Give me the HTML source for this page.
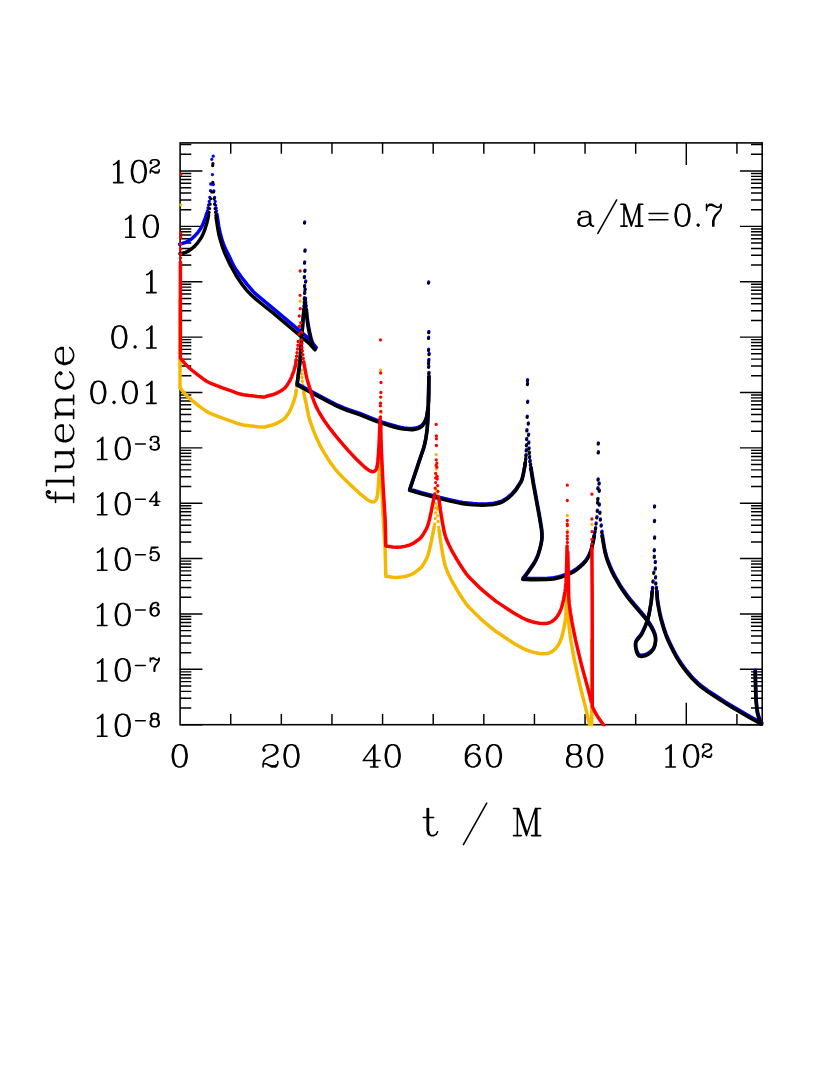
<!DOCTYPE html>
<html><head><meta charset="utf-8"><title>fluence</title>
<style>html,body{margin:0;padding:0;background:#fff}body{width:830px;height:1075px;overflow:hidden;font-family:"Liberation Serif",serif}</style>
</head><body>
<svg width="830" height="1075" viewBox="0 0 830 1075" style="display:block">
<rect width="830" height="1075" fill="#fff"/>
<path d="M180.1,724.70h22.3M762.2,724.70h-22.3M180.1,708.03h11.2M762.2,708.03h-11.2M180.1,698.28h11.2M762.2,698.28h-11.2M180.1,691.36h11.2M762.2,691.36h-11.2M180.1,686.00h11.2M762.2,686.00h-11.2M180.1,681.61h11.2M762.2,681.61h-11.2M180.1,677.91h11.2M762.2,677.91h-11.2M180.1,674.70h11.2M762.2,674.70h-11.2M180.1,671.86h11.2M762.2,671.86h-11.2M180.1,669.33h22.3M762.2,669.33h-22.3M180.1,652.66h11.2M762.2,652.66h-11.2M180.1,642.91h11.2M762.2,642.91h-11.2M180.1,635.99h11.2M762.2,635.99h-11.2M180.1,630.63h11.2M762.2,630.63h-11.2M180.1,626.24h11.2M762.2,626.24h-11.2M180.1,622.54h11.2M762.2,622.54h-11.2M180.1,619.33h11.2M762.2,619.33h-11.2M180.1,616.49h11.2M762.2,616.49h-11.2M180.1,613.96h22.3M762.2,613.96h-22.3M180.1,597.29h11.2M762.2,597.29h-11.2M180.1,587.54h11.2M762.2,587.54h-11.2M180.1,580.62h11.2M762.2,580.62h-11.2M180.1,575.26h11.2M762.2,575.26h-11.2M180.1,570.87h11.2M762.2,570.87h-11.2M180.1,567.17h11.2M762.2,567.17h-11.2M180.1,563.96h11.2M762.2,563.96h-11.2M180.1,561.12h11.2M762.2,561.12h-11.2M180.1,558.59h22.3M762.2,558.59h-22.3M180.1,541.92h11.2M762.2,541.92h-11.2M180.1,532.17h11.2M762.2,532.17h-11.2M180.1,525.25h11.2M762.2,525.25h-11.2M180.1,519.89h11.2M762.2,519.89h-11.2M180.1,515.50h11.2M762.2,515.50h-11.2M180.1,511.80h11.2M762.2,511.80h-11.2M180.1,508.59h11.2M762.2,508.59h-11.2M180.1,505.75h11.2M762.2,505.75h-11.2M180.1,503.22h22.3M762.2,503.22h-22.3M180.1,486.55h11.2M762.2,486.55h-11.2M180.1,476.80h11.2M762.2,476.80h-11.2M180.1,469.88h11.2M762.2,469.88h-11.2M180.1,464.52h11.2M762.2,464.52h-11.2M180.1,460.13h11.2M762.2,460.13h-11.2M180.1,456.43h11.2M762.2,456.43h-11.2M180.1,453.22h11.2M762.2,453.22h-11.2M180.1,450.38h11.2M762.2,450.38h-11.2M180.1,447.85h22.3M762.2,447.85h-22.3M180.1,431.18h11.2M762.2,431.18h-11.2M180.1,421.43h11.2M762.2,421.43h-11.2M180.1,414.51h11.2M762.2,414.51h-11.2M180.1,409.15h11.2M762.2,409.15h-11.2M180.1,404.76h11.2M762.2,404.76h-11.2M180.1,401.06h11.2M762.2,401.06h-11.2M180.1,397.85h11.2M762.2,397.85h-11.2M180.1,395.01h11.2M762.2,395.01h-11.2M180.1,392.48h22.3M762.2,392.48h-22.3M180.1,375.81h11.2M762.2,375.81h-11.2M180.1,366.06h11.2M762.2,366.06h-11.2M180.1,359.14h11.2M762.2,359.14h-11.2M180.1,353.78h11.2M762.2,353.78h-11.2M180.1,349.39h11.2M762.2,349.39h-11.2M180.1,345.69h11.2M762.2,345.69h-11.2M180.1,342.48h11.2M762.2,342.48h-11.2M180.1,339.64h11.2M762.2,339.64h-11.2M180.1,337.11h22.3M762.2,337.11h-22.3M180.1,320.44h11.2M762.2,320.44h-11.2M180.1,310.69h11.2M762.2,310.69h-11.2M180.1,303.77h11.2M762.2,303.77h-11.2M180.1,298.41h11.2M762.2,298.41h-11.2M180.1,294.02h11.2M762.2,294.02h-11.2M180.1,290.32h11.2M762.2,290.32h-11.2M180.1,287.11h11.2M762.2,287.11h-11.2M180.1,284.27h11.2M762.2,284.27h-11.2M180.1,281.74h22.3M762.2,281.74h-22.3M180.1,265.07h11.2M762.2,265.07h-11.2M180.1,255.32h11.2M762.2,255.32h-11.2M180.1,248.40h11.2M762.2,248.40h-11.2M180.1,243.04h11.2M762.2,243.04h-11.2M180.1,238.65h11.2M762.2,238.65h-11.2M180.1,234.95h11.2M762.2,234.95h-11.2M180.1,231.74h11.2M762.2,231.74h-11.2M180.1,228.90h11.2M762.2,228.90h-11.2M180.1,226.37h22.3M762.2,226.37h-22.3M180.1,209.70h11.2M762.2,209.70h-11.2M180.1,199.95h11.2M762.2,199.95h-11.2M180.1,193.03h11.2M762.2,193.03h-11.2M180.1,187.67h11.2M762.2,187.67h-11.2M180.1,183.28h11.2M762.2,183.28h-11.2M180.1,179.58h11.2M762.2,179.58h-11.2M180.1,176.37h11.2M762.2,176.37h-11.2M180.1,173.53h11.2M762.2,173.53h-11.2M180.1,171.00h22.3M762.2,171.00h-22.3M180.1,154.33h11.2M762.2,154.33h-11.2M180.1,144.58h11.2M762.2,144.58h-11.2M230.72,724.7v-10.8M230.72,142.9v10.8M281.34,724.7v-10.8M281.34,142.9v10.8M331.96,724.7v-10.8M331.96,142.9v10.8M382.58,724.7v-10.8M382.58,142.9v10.8M433.20,724.7v-10.8M433.20,142.9v10.8M483.82,724.7v-10.8M483.82,142.9v10.8M534.44,724.7v-10.8M534.44,142.9v10.8M585.06,724.7v-10.8M585.06,142.9v10.8M635.68,724.7v-10.8M635.68,142.9v10.8M686.30,724.7v-22.0M686.30,142.9v22.0M736.92,724.7v-10.8M736.92,142.9v10.8" stroke="#000" stroke-width="1.45" fill="none"/>
<rect x="180.1" y="142.9" width="582.1" height="581.8" fill="none" stroke="#000" stroke-width="1.55"/>
<clipPath id="cp"><rect x="177.9" y="142.9" width="586.5" height="583.4"/></clipPath>
<g clip-path="url(#cp)">
<g fill="none" stroke="#f5b800" stroke-width="3.5" stroke-linecap="round" stroke-linejoin="round"><path d="M180.0,300.0L180.0,388.4M180.4,388.4L184.1,392.8L186.5,395.5L188.8,397.7L192.3,400.7L197.8,405.1L202.9,408.9L206.6,411.4L210.0,413.2L212.7,414.3L222.5,418.1L232.6,421.6L237.0,423.3L239.3,424.0L243.1,424.9L249.3,425.8L257.2,426.7L262.6,427.1L264.1,427.1L265.5,426.9L267.5,426.2L272.4,425.0L274.9,424.1L277.7,422.8L281.0,421.0L283.4,419.4L285.0,418.0L287.2,415.2L288.9,412.6L290.3,410.1L291.7,406.9L294.0,400.7L295.0,397.3L295.7,394.3L296.2,390.2M303.7,392.3L304.0,394.1L306.7,406.2L308.6,416.1L309.8,420.4L313.1,429.6L317.0,439.1L319.9,445.3L323.2,451.2L327.5,458.2L331.0,463.4L335.0,468.8L338.4,472.9L344.1,478.8L348.5,483.1L359.5,493.3L363.6,496.7L366.2,498.9L368.3,500.3L370.3,501.3L371.6,501.8L373.0,501.9L374.1,501.7L374.6,501.4L375.4,500.7L376.2,499.5L376.8,498.0L377.3,495.8L377.8,492.3L378.5,483.2L379.1,473.9L380.2,448.2M380.8,455.2L381.1,471.7L381.5,482.9L383.2,518.0L385.1,549.1L385.4,559.4L385.8,576.2M385.8,576.2L392.8,577.2L396.8,577.4L400.9,577.1L403.5,576.7L405.5,576.3L408.0,575.6L409.9,575.0L411.4,574.4L413.3,573.4L415.2,572.2L417.3,570.7L419.5,569.0L420.8,567.8L422.4,565.8L425.5,560.7L426.9,558.0L428.1,554.8L429.4,550.0L431.2,541.9L434.2,526.7M439.0,529.7L440.4,540.2L442.5,553.1L444.3,562.5L445.1,565.6L446.0,568.2L447.4,571.7L449.0,575.2L451.1,579.5L453.5,583.9L456.5,589.1L460.0,594.7L463.1,599.5L465.7,603.3L467.6,605.7L469.2,607.5L479.9,618.1L482.7,620.6L486.8,624.1L496.4,631.8L500.3,634.3L509.5,640.5L514.1,643.4L518.6,646.0L522.1,647.9L525.3,649.5L528.4,650.7L531.5,651.7L534.1,652.4L536.7,653.0L539.3,653.5L541.7,653.7L544.0,653.8L546.2,653.6L547.7,653.4L549.1,653.0L550.9,652.2L552.6,651.2L554.0,650.1L555.7,648.5L556.9,647.0L558.1,645.3L559.2,643.4L560.2,641.3L561.0,639.2L561.8,636.9L562.6,633.8L563.5,630.1L564.3,625.9L565.0,622.0L565.5,618.4L566.0,613.1L566.4,604.4L567.1,576.2M567.9,590.0L568.6,618.3L568.8,623.1L569.1,626.9L569.7,632.0L571.3,643.0L572.6,650.5L574.0,658.1L577.8,676.0L580.5,687.6L586.2,710.1L589.6,725.0M591.7,640.0L591.7,726.0"/><path d="M296.2,390.2L296.6,386.2L297.7,378.3L298.4,369.9M303.7,392.3L302.6,383.2L302.0,379.0L301.8,375.9L301.7,368.2" stroke-dasharray="0 3.7"/><path d="M180.8,204.8h0M180.8,263.3h0M180.8,267.6h0M180.6,274.2h0M180.6,279.2h0M180.6,284.2h0M180.6,288.2h0M300.2,301.2h0M300.1,325.5h0M300.3,338.9h0M299.3,346.2h0M300.8,352.9h0M299.1,356.6h0M301.6,362.4h0M298.9,364.5h0M380.5,370.1h0M380.7,403.2h0M381.0,412.7h0M380.9,422.7h0M380.7,427.3h0M380.5,433.4h0M380.4,436.0h0M380.8,441.6h0M380.5,447.2h0M434.7,524.0h0M435.2,518.4h0M435.7,512.8h0M435.7,508.2h0M435.7,503.6h0M436.2,495.4h0M436.2,490.0h0M436.4,475.7h0M436.4,469.0h0M436.4,466.2h0M436.2,454.6h0M438.6,527.1h0M438.0,521.5h0M437.7,515.8h0M437.2,509.2h0M437.2,506.6h0M436.9,497.4h0M436.9,493.3h0M567.3,515.4h0M567.3,530.7h0M567.3,550.7h0M567.3,554.3h0M567.4,555.8h0M567.3,562.5h0M567.3,566.1h0M567.3,569.2h0M567.4,572.7h0M591.9,524.4h0M591.9,549.2h0M592.0,561.8h0M592.0,569.6h0M592.0,574.2h0" stroke-width="3.3"/></g>
<g fill="none" stroke="#0000ff" stroke-width="3.5" stroke-linecap="round" stroke-linejoin="round"><path d="M179.5,244.3L185.2,242.5L186.7,241.9L188.6,240.9L190.3,239.7L192.5,238.1L194.4,236.3L196.2,234.3L198.0,232.3L199.5,230.2L201.0,227.9L202.0,226.1L203.3,223.2L205.1,218.6L205.8,216.7L206.5,214.0M216.9,214.0L218.8,226.5L220.0,232.4L221.7,238.8L223.8,245.0L225.7,249.3L229.2,256.3L232.1,262.6L233.5,265.3L234.8,267.6L236.4,270.1L241.0,276.5L243.8,280.2L246.9,284.1L253.1,291.4L254.5,292.9L259.5,297.2L274.3,309.3L289.8,322.3L304.8,335.0L308.0,338.0L310.2,340.3L312.5,343.0L316.2,347.7"/><path d="M213.2,156.2h0M211.8,159.3h0M212.4,174.6h0M210.7,184.0h0M213.3,184.5h0M210.5,190.7h0M213.9,191.0h0M209.8,197.4h0M214.6,197.4h0M209.2,201.5h0M215.2,201.5h0M208.6,205.0h0M215.7,205.3h0M208.0,208.0h0M216.2,208.2h0M207.4,210.8h0M216.5,210.8h0M206.9,213.0h0" stroke-width="3.3"/></g>
<g transform="translate(0.2,-1.2)" fill="none" stroke="#0000ff" stroke-width="3.5" stroke-linecap="round" stroke-linejoin="round"><path d="M315.0,349.8L313.3,346.3L312.1,343.4L310.8,339.2L309.6,334.0L308.5,328.9L307.6,323.3L306.8,317.2L306.2,310.5M303.8,310.1L302.7,323.6L300.1,359.4L299.1,368.5L297.0,384.9M297.0,384.9L310.4,392.2L330.2,402.8L337.4,406.4L343.2,408.9L347.6,410.5L359.6,414.6L373.1,420.1L377.2,421.7L382.2,423.4L388.0,425.2L396.8,427.7L401.6,428.8L403.8,429.1L409.2,429.6L411.2,429.7L412.7,429.7L415.2,429.3L417.8,428.6L419.7,427.8L421.4,426.8L422.5,425.7L423.8,423.9L425.5,420.6L426.2,418.7L426.8,416.3L427.5,411.4L428.1,406.6L428.5,401.6L428.7,393.5L428.8,377.4M428.8,380.0L428.3,400.6L428.1,412.1L427.7,421.1L427.1,429.4L426.4,434.8L425.7,439.3L424.6,444.7L423.3,449.5L419.5,460.6L409.6,490.3M409.6,490.3L421.4,493.8L436.7,497.9L449.2,500.9L458.4,502.9L462.7,503.7L466.9,504.2L472.9,504.8L478.2,505.1L482.7,505.2L486.3,505.1L490.1,504.8L493.7,504.4L496.9,503.7L499.6,503.0L502.2,502.0L504.3,500.8L507.5,498.6L509.9,496.6L512.2,494.4L514.9,491.4L516.5,489.2L520.7,482.6L521.4,481.3L521.8,480.2L522.6,477.3L523.4,473.6L524.7,466.7L525.2,463.2M530.9,469.0L533.2,483.5L539.2,516.1L541.1,527.5L541.6,530.9L541.8,533.8L541.9,536.4L541.8,539.1L541.5,541.6L541.1,544.0L539.7,549.9L538.0,555.3L537.1,557.7L536.0,560.0L534.3,563.2L532.0,566.8L527.5,573.2L522.9,579.3M522.9,579.3L530.6,579.7L535.5,579.8L546.6,579.6L550.3,579.3L553.4,578.9L555.9,578.5L558.5,577.9L561.1,577.2L564.1,576.2L566.5,575.2L569.3,574.0L571.9,572.7L573.7,571.7L575.6,570.5L577.8,568.9L579.8,567.2L582.0,565.2L584.0,563.2L585.5,561.5L586.5,560.2L587.6,558.4L588.6,556.6L590.0,553.5L591.1,550.5L592.9,543.0L594.2,536.2M602.2,536.2L603.1,542.0L604.5,550.0L605.4,554.0L606.4,557.7L608.0,562.4L609.8,566.9L611.9,571.7L614.1,576.1L617.0,581.2L620.2,586.6L623.6,591.8L626.8,596.3L630.1,600.5L637.0,608.5L643.4,616.1L645.9,619.2L647.8,621.9L650.3,625.7L652.1,628.9L653.6,632.0L654.7,634.9L655.2,636.9L655.5,638.8L655.5,641.2L655.3,643.2L654.9,645.3L654.2,647.3L653.4,649.2L652.2,650.8L650.8,652.3L648.7,654.0L647.0,655.0L645.0,655.8L642.8,656.3L641.7,656.4L640.7,656.4L639.4,656.1L639.0,655.9L638.3,655.3L637.7,654.5L637.0,653.0L636.5,651.4L635.8,648.9L635.6,647.3L635.4,645.7L635.5,644.0L635.6,642.9L636.0,642.0L636.6,640.8L637.4,639.7L640.1,636.5L641.2,635.1L641.8,634.0L643.4,630.7L644.9,627.4L646.3,623.9L647.5,620.4L648.2,618.0L649.0,614.7L651.1,602.5L651.5,598.6L652.1,592.3M656.7,592.3L657.2,599.2L657.6,602.6L658.5,607.7L659.7,614.0L660.9,619.2L662.2,623.8L664.0,629.9L665.8,635.0L667.7,639.7L669.9,644.4L672.9,650.6L675.8,656.0L678.2,660.1L680.7,664.0L683.9,668.5L686.9,672.4L689.4,675.4L691.7,678.1L694.2,680.6L696.4,682.8L698.8,684.9L701.3,687.1L704.1,689.2L707.4,691.6L715.7,697.0L725.1,703.1L731.0,706.7L748.9,717.2L761.6,724.3M755.1,671.3L755.7,694.3L756.1,702.0L756.7,708.2L757.3,712.7L758.1,716.0L759.2,719.4L761.1,724.3"/><path d="M306.2,310.5L305.6,303.8L305.2,296.0M303.8,310.1L304.3,302.7L304.3,296.0M428.8,377.4L428.8,370.0M525.2,463.2L525.8,458.3L526.0,454.0M530.9,469.0L529.7,460.0M594.2,536.2L595.6,528.0M602.2,536.2L601.4,529.0M652.1,592.3L652.6,586.0M656.7,592.3L656.1,587.0" stroke-dasharray="0 3.7"/><path d="M304.5,223.1h0M304.9,251.2h0M304.5,263.2h0M304.8,271.3h0M304.3,277.5h0M305.6,282.1h0M304.5,286.6h0M305.0,290.0h0M304.6,293.4h0M428.5,283.1h0M428.7,332.7h0M428.5,338.4h0M428.5,350.4h0M429.0,354.5h0M428.7,360.6h0M428.5,363.7h0M428.6,367.3h0M527.4,380.9h0M527.4,384.5h0M527.6,402.3h0M527.1,417.3h0M528.2,424.1h0M526.8,430.9h0M528.5,435.3h0M526.6,439.6h0M528.7,443.2h0M526.4,445.8h0M528.9,449.0h0M526.2,450.9h0M529.2,453.4h0M529.5,457.6h0M598.2,444.0h0M598.2,452.9h0M598.0,480.0h0M599.0,484.1h0M597.8,488.8h0M599.2,491.3h0M597.8,499.5h0M597.5,503.1h0M599.2,505.1h0M597.2,511.3h0M599.8,513.3h0M596.8,517.9h0M600.3,520.0h0M596.0,524.1h0M601.1,526.1h0M654.4,507.1h0M654.4,521.6h0M654.5,538.2h0M654.2,550.8h0M654.2,557.3h0M655.2,562.6h0M655.2,569.2h0M653.7,573.3h0M655.5,577.9h0M652.9,582.0h0M655.7,584.1h0" stroke-width="3.3"/></g>
<g fill="none" stroke="#000" stroke-width="3.5" stroke-linecap="round" stroke-linejoin="round"><path d="M180.0,253.8L183.4,253.0L185.7,252.3L187.6,251.4L189.4,250.4L191.7,248.8L193.9,246.9L195.8,245.0L197.6,242.8L199.5,240.2L201.2,237.6L202.7,234.8L203.7,232.4L205.2,228.3L207.0,222.4L207.6,219.9L208.3,216.5M216.1,217.5L218.0,229.7L219.1,235.3L220.3,239.7L221.6,244.1L222.8,247.9L224.2,251.7L226.4,256.8L228.5,261.3L230.5,265.4L233.2,270.2L235.4,274.2L237.6,277.7L240.7,282.4L243.5,286.2L246.2,289.6L248.4,292.1L251.0,294.7L255.8,299.1L262.4,304.5L272.7,312.7L304.8,339.6L307.7,342.1L310.0,344.3L312.0,346.5L315.0,349.8M315.0,349.8L313.3,346.3L312.1,343.4L310.8,339.2L309.6,334.0L308.5,328.9L307.6,323.3L306.8,317.2L306.2,310.5M303.8,310.1L302.7,323.6L300.1,359.4L299.1,368.5L297.0,384.9M297.0,384.9L310.4,392.2L330.2,402.8L337.4,406.4L343.2,408.9L347.6,410.5L359.6,414.6L373.1,420.1L377.2,421.7L382.2,423.4L388.0,425.2L396.8,427.7L401.6,428.8L403.8,429.1L409.2,429.6L411.2,429.7L412.7,429.7L415.2,429.3L417.8,428.6L419.7,427.8L421.4,426.8L422.5,425.7L423.8,423.9L425.5,420.6L426.2,418.7L426.8,416.3L427.5,411.4L428.1,406.6L428.5,401.6L428.7,393.5L428.8,377.4M428.8,380.0L428.3,400.6L428.1,412.1L427.7,421.1L427.1,429.4L426.4,434.8L425.7,439.3L424.6,444.7L423.3,449.5L419.5,460.6L409.6,490.3M409.6,490.3L421.4,493.8L436.7,497.9L449.2,500.9L458.4,502.9L462.7,503.7L466.9,504.2L472.9,504.8L478.2,505.1L482.7,505.2L486.3,505.1L490.1,504.8L493.7,504.4L496.9,503.7L499.6,503.0L502.2,502.0L504.3,500.8L507.5,498.6L509.9,496.6L512.2,494.4L514.9,491.4L516.5,489.2L520.7,482.6L521.4,481.3L521.8,480.2L522.6,477.3L523.4,473.6L524.7,466.7L525.2,463.2M530.9,469.0L533.2,483.5L539.2,516.1L541.1,527.5L541.6,530.9L541.8,533.8L541.9,536.4L541.8,539.1L541.5,541.6L541.1,544.0L539.7,549.9L538.0,555.3L537.1,557.7L536.0,560.0L534.3,563.2L532.0,566.8L527.5,573.2L522.9,579.3M522.9,579.3L530.6,579.7L535.5,579.8L546.6,579.6L550.3,579.3L553.4,578.9L555.9,578.5L558.5,577.9L561.1,577.2L564.1,576.2L566.5,575.2L569.3,574.0L571.9,572.7L573.7,571.7L575.6,570.5L577.8,568.9L579.8,567.2L582.0,565.2L584.0,563.2L585.5,561.5L586.5,560.2L587.6,558.4L588.6,556.6L590.0,553.5L591.1,550.5L592.9,543.0L594.2,536.2M602.2,536.2L603.1,542.0L604.5,550.0L605.4,554.0L606.4,557.7L608.0,562.4L609.8,566.9L611.9,571.7L614.1,576.1L617.0,581.2L620.2,586.6L623.6,591.8L626.8,596.3L630.1,600.5L637.0,608.5L643.4,616.1L645.9,619.2L647.8,621.9L650.3,625.7L652.1,628.9L653.6,632.0L654.7,634.9L655.2,636.9L655.5,638.8L655.5,641.2L655.3,643.2L654.9,645.3L654.2,647.3L653.4,649.2L652.2,650.8L650.8,652.3L648.7,654.0L647.0,655.0L645.0,655.8L642.8,656.3L641.7,656.4L640.7,656.4L639.4,656.1L639.0,655.9L638.3,655.3L637.7,654.5L637.0,653.0L636.5,651.4L635.8,648.9L635.6,647.3L635.4,645.7L635.5,644.0L635.6,642.9L636.0,642.0L636.6,640.8L637.4,639.7L640.1,636.5L641.2,635.1L641.8,634.0L643.4,630.7L644.9,627.4L646.3,623.9L647.5,620.4L648.2,618.0L649.0,614.7L651.1,602.5L651.5,598.6L652.1,592.3M656.7,592.3L657.2,599.2L657.6,602.6L658.5,607.7L659.7,614.0L660.9,619.2L662.2,623.8L664.0,629.9L665.8,635.0L667.7,639.7L669.9,644.4L672.9,650.6L675.8,656.0L678.2,660.1L680.7,664.0L683.9,668.5L686.9,672.4L689.4,675.4L691.7,678.1L694.2,680.6L696.4,682.8L698.8,684.9L701.3,687.1L704.1,689.2L707.4,691.6L715.7,697.0L725.1,703.1L731.0,706.7L748.9,717.2L761.6,724.3M755.1,671.3L755.7,694.3L756.1,702.0L756.7,708.2L757.3,712.7L758.1,716.0L759.2,719.4L761.1,724.3"/><path d="M306.2,310.5L305.6,303.8L305.2,296.0M303.8,310.1L304.3,302.7L304.3,296.0M428.8,377.4L428.8,370.0M525.2,463.2L525.8,458.3L526.0,454.0M530.9,469.0L529.7,460.0M594.2,536.2L595.6,528.0M602.2,536.2L601.4,529.0M652.1,592.3L652.6,586.0M656.7,592.3L656.1,587.0" stroke-dasharray="0 3.7"/><path d="M212.7,165.5h0M212.9,163.7h0M212.8,182.3h0M211.8,191.9h0M213.5,191.9h0M210.7,198.8h0M214.1,198.8h0M210.1,204.2h0M214.6,204.2h0M209.6,208.6h0M215.1,208.6h0M209.1,212.3h0M215.5,212.3h0M208.7,215.0h0M215.9,215.3h0M304.5,223.1h0M304.9,251.2h0M304.5,263.2h0M304.8,271.3h0M304.3,277.5h0M305.6,282.1h0M304.5,286.6h0M305.0,290.0h0M304.6,293.4h0M428.5,283.1h0M428.7,332.7h0M428.5,338.4h0M428.5,350.4h0M429.0,354.5h0M428.7,360.6h0M428.5,363.7h0M428.6,367.3h0M527.4,380.9h0M527.4,384.5h0M527.6,402.3h0M527.1,417.3h0M528.2,424.1h0M526.8,430.9h0M528.5,435.3h0M526.6,439.6h0M528.7,443.2h0M526.4,445.8h0M528.9,449.0h0M526.2,450.9h0M529.2,453.4h0M529.5,457.6h0M598.2,444.0h0M598.2,452.9h0M598.0,480.0h0M599.0,484.1h0M597.8,488.8h0M599.2,491.3h0M597.8,499.5h0M597.5,503.1h0M599.2,505.1h0M597.2,511.3h0M599.8,513.3h0M596.8,517.9h0M600.3,520.0h0M596.0,524.1h0M601.1,526.1h0M654.4,507.1h0M654.4,521.6h0M654.5,538.2h0M654.2,550.8h0M654.2,557.3h0M655.2,562.6h0M655.2,569.2h0M653.7,573.3h0M655.5,577.9h0M652.9,582.0h0M655.7,584.1h0" stroke-width="3.3"/></g>
<g fill="none" stroke="#ff0000" stroke-width="3.5" stroke-linecap="round" stroke-linejoin="round"><path d="M180.4,262.0L180.4,358.2M180.4,358.2L184.1,362.6L186.5,365.3L188.8,367.5L192.3,370.5L197.8,374.9L202.9,378.7L206.6,381.2L210.0,383.0L212.7,384.1L222.5,387.9L232.6,391.4L237.0,393.1L239.3,393.8L243.1,394.7L249.3,395.6L257.2,396.5L262.6,396.9L264.1,396.9L265.5,396.7L267.5,396.0L272.4,394.8L274.9,393.9L277.7,392.6L281.0,390.8L283.4,389.2L285.0,387.8L287.2,385.0L288.9,382.4L290.3,379.9L291.7,376.7L294.0,370.5L295.0,367.1L295.7,364.1L296.2,360.0M303.7,362.1L306.1,374.8L307.1,379.1L308.2,383.1L311.0,392.1L312.5,397.5L313.9,401.2L315.9,406.1L317.9,410.0L319.8,413.5L324.3,420.7L328.8,427.1L335.9,436.2L341.8,443.2L348.1,450.4L355.9,458.7L362.7,465.3L365.1,467.5L367.0,468.9L368.9,470.2L370.7,471.2L371.6,471.5L372.4,471.7L373.5,471.6L374.6,471.2L375.4,470.5L376.0,469.7L376.4,469.0L376.9,467.3L377.4,464.9L377.8,461.7L378.6,451.8L379.1,442.7L380.2,418.0M380.8,425.0L381.1,441.5L381.5,452.7L383.2,487.8L385.1,518.9L385.4,529.2L385.8,546.0M385.8,546.0L392.8,547.0L396.8,547.2L400.9,546.9L403.5,546.5L405.5,546.1L408.0,545.5L409.9,544.8L411.4,544.2L413.3,543.2L415.2,542.0L417.3,540.5L419.5,538.8L420.8,537.6L422.4,535.6L425.5,530.5L426.9,527.8L428.1,524.6L429.4,519.8L431.2,511.7L434.2,496.5M439.0,499.5L440.4,510.0L442.5,522.9L444.3,532.3L445.1,535.4L446.0,538.0L447.4,541.5L449.0,545.0L451.1,549.3L453.5,553.7L456.5,558.9L460.0,564.5L463.1,569.3L465.7,573.1L467.6,575.5L469.2,577.3L479.9,587.9L482.7,590.4L486.8,593.9L496.4,601.6L500.3,604.1L509.5,610.3L514.1,613.2L518.6,615.8L522.1,617.7L525.3,619.3L528.4,620.5L531.5,621.5L534.1,622.2L536.7,622.8L539.3,623.3L541.7,623.5L544.0,623.6L546.2,623.4L547.7,623.2L549.1,622.8L550.9,622.0L552.6,621.0L554.0,619.9L555.7,618.3L556.9,616.8L558.1,615.1L559.2,613.2L560.2,611.1L561.0,609.0L561.8,606.7L562.6,603.6L563.5,599.9L564.3,595.7L565.0,591.8L565.5,588.2L566.0,582.9L566.4,574.2L567.1,546.0M567.8,552.0L568.4,578.5L568.6,591.0L568.7,596.6L569.2,603.9L570.5,613.1L571.9,621.6L574.0,632.3L575.6,640.1L577.6,648.6L581.7,665.8L588.4,690.1L589.8,695.6L591.3,702.2M591.9,548.0L592.2,600.0L592.3,706.5M592.3,706.5L595.2,712.4L597.2,715.9L599.7,719.6L604.0,725.5"/><path d="M296.2,360.0L296.6,356.0L297.7,348.1L298.4,339.7M303.7,362.1L302.6,353.0L302.0,348.8L301.8,345.7L301.7,338.0" stroke-dasharray="0 3.7"/><path d="M180.8,174.6h0M180.8,233.1h0M180.8,237.4h0M180.6,244.0h0M180.6,249.0h0M180.6,254.0h0M180.6,258.0h0M300.2,271.0h0M300.1,295.3h0M300.3,308.7h0M299.3,316.0h0M300.8,322.7h0M299.1,326.4h0M301.6,332.2h0M298.9,334.3h0M380.5,339.9h0M380.7,373.0h0M381.0,382.5h0M380.9,392.5h0M380.7,397.1h0M380.5,403.2h0M380.4,405.8h0M380.8,411.4h0M380.5,417.0h0M434.7,493.8h0M435.2,488.2h0M435.7,482.6h0M435.7,478.0h0M435.7,473.4h0M436.2,465.2h0M436.2,459.8h0M436.4,445.5h0M436.4,438.8h0M436.4,436.0h0M436.2,424.4h0M438.6,496.9h0M438.0,491.3h0M437.7,485.6h0M437.2,479.0h0M437.2,476.4h0M436.9,467.2h0M436.9,463.1h0M567.3,485.2h0M567.3,500.5h0M567.3,520.5h0M567.3,524.1h0M567.4,525.6h0M567.3,532.3h0M567.3,535.9h0M567.3,539.0h0M567.4,542.5h0M591.9,494.2h0M591.9,519.0h0M592.0,531.6h0M592.0,539.4h0M592.0,544.0h0" stroke-width="3.3"/></g>
</g>
<path d="M130.89,237.27L130.89,215.18L127.74,218.33L125.63,219.39M129.84,216.23L129.84,237.27M125.63,237.27L135.10,237.27M149.83,215.18L146.67,216.23L144.57,219.39L143.52,224.65L143.52,227.80L144.57,233.06L146.67,236.22L149.83,237.27L147.72,236.22L146.67,235.17L145.62,233.06L144.57,227.80L144.57,224.65L145.62,219.39L146.67,217.28L147.72,216.23L149.83,215.18L151.93,215.18L155.09,216.23L157.19,219.39L158.24,224.65L158.24,227.80L157.19,233.06L155.09,236.22L151.93,237.27L154.04,236.22L155.09,235.17L156.14,233.06L157.19,227.80L157.19,224.65L156.14,219.39L155.09,217.28L154.04,216.23L151.93,215.18M149.83,237.27L151.93,237.27M151.93,292.64L151.93,270.55L148.78,273.70L146.67,274.76M150.88,271.60L150.88,292.64M146.67,292.64L156.14,292.64M118.27,325.92L115.11,326.97L113.01,330.13L111.96,335.39L111.96,338.54L113.01,343.80L115.11,346.96L118.27,348.01L116.16,346.96L115.11,345.91L114.06,343.80L113.01,338.54L113.01,335.39L114.06,330.13L115.11,328.02L116.16,326.97L118.27,325.92L120.37,325.92L123.53,326.97L125.63,330.13L126.68,335.39L126.68,338.54L125.63,343.80L123.53,346.96L120.37,348.01L122.48,346.96L123.53,345.91L124.58,343.80L125.63,338.54L125.63,335.39L124.58,330.13L123.53,328.02L122.48,326.97L120.37,325.92M118.27,348.01L120.37,348.01M135.10,345.91L134.05,346.96L135.10,348.01L136.15,346.96L135.10,345.91M151.93,348.01L151.93,325.92L148.78,329.07L146.67,330.13M150.88,326.97L150.88,348.01M146.67,348.01L156.14,348.01M97.23,381.29L94.07,382.34L91.97,385.50L90.92,390.76L90.92,393.91L91.97,399.17L94.07,402.33L97.23,403.38L95.12,402.33L94.07,401.28L93.02,399.17L91.97,393.91L91.97,390.76L93.02,385.50L94.07,383.39L95.12,382.34L97.23,381.29L99.33,381.29L102.49,382.34L104.59,385.50L105.64,390.76L105.64,393.91L104.59,399.17L102.49,402.33L99.33,403.38L101.44,402.33L102.49,401.28L103.54,399.17L104.59,393.91L104.59,390.76L103.54,385.50L102.49,383.39L101.44,382.34L99.33,381.29M97.23,403.38L99.33,403.38M114.06,401.28L113.01,402.33L114.06,403.38L115.11,402.33L114.06,401.28M128.79,381.29L125.63,382.34L123.53,385.50L122.48,390.76L122.48,393.91L123.53,399.17L125.63,402.33L128.79,403.38L126.68,402.33L125.63,401.28L124.58,399.17L123.53,393.91L123.53,390.76L124.58,385.50L125.63,383.39L126.68,382.34L128.79,381.29L130.89,381.29L134.05,382.34L136.15,385.50L137.20,390.76L137.20,393.91L136.15,399.17L134.05,402.33L130.89,403.38L133.00,402.33L134.05,401.28L135.10,399.17L136.15,393.91L136.15,390.76L135.10,385.50L134.05,383.39L133.00,382.34L130.89,381.29M128.79,403.38L130.89,403.38M151.93,403.38L151.93,381.29L148.78,384.44L146.67,385.50M150.88,382.34L150.88,403.38M146.67,403.38L156.14,403.38M118.87,182.60L118.87,160.51L115.72,163.66L113.61,164.72M117.82,161.56L117.82,182.60M113.61,182.60L123.08,182.60M137.81,160.51L134.65,161.56L132.55,164.72L131.50,169.98L131.50,173.13L132.55,178.39L134.65,181.55L137.81,182.60L135.70,181.55L134.65,180.50L133.60,178.39L132.55,173.13L132.55,169.98L133.60,164.72L134.65,162.61L135.70,161.56L137.81,160.51L139.91,160.51L143.07,161.56L145.17,164.72L146.22,169.98L146.22,173.13L145.17,178.39L143.07,181.55L139.91,182.60L142.02,181.55L143.07,180.50L144.12,178.39L145.17,173.13L145.17,169.98L144.12,164.72L143.07,162.61L142.02,161.56L139.91,160.51M137.81,182.60L139.91,182.60M153.46,167.28L156.63,166.01L158.54,164.75L159.17,163.47L159.17,162.21L158.54,160.94L157.91,160.30L156.00,159.66L153.46,159.66L151.56,160.30L150.92,160.94L150.28,162.21L150.28,162.84L150.92,163.47L151.56,162.84L150.92,162.21M150.28,173.00L150.28,171.09L150.92,169.19L152.19,167.92L156.00,166.01L157.91,164.75L158.54,163.47L158.54,162.21L157.91,160.94L157.27,160.30L156.00,159.66M159.17,169.82L159.17,171.09L158.54,172.37L157.91,173.00L155.37,173.00L152.19,171.09L155.37,172.37L157.27,172.37L158.54,171.73L159.17,171.09M150.28,171.73L150.92,171.09L152.19,171.09M102.77,459.45L102.77,437.36L99.62,440.51L97.51,441.57M101.72,438.41L101.72,459.45M97.51,459.45L106.98,459.45M121.71,437.36L118.55,438.41L116.45,441.57L115.40,446.83L115.40,449.98L116.45,455.24L118.55,458.40L121.71,459.45L119.60,458.40L118.55,457.35L117.50,455.24L116.45,449.98L116.45,446.83L117.50,441.57L118.55,439.46L119.60,438.41L121.71,437.36L123.81,437.36L126.97,438.41L129.07,441.57L130.12,446.83L130.12,449.98L129.07,455.24L126.97,458.40L123.81,459.45L125.92,458.40L126.97,457.35L128.02,455.24L129.07,449.98L129.07,446.83L128.02,441.57L126.97,439.46L125.92,438.41L123.81,437.36M121.71,459.45L123.81,459.45M135.58,443.95h9.7M157.91,443.50L158.54,445.41L158.54,447.31L157.91,448.58L157.27,449.22L156.00,449.85L153.46,449.85L151.56,449.22L150.92,448.58L150.28,447.31L150.28,446.68L150.92,446.04L151.56,446.68L150.92,447.31M154.09,442.23L156.00,442.23L157.91,441.60L158.54,440.33L158.54,438.42L157.91,437.15L156.00,436.52L153.46,436.52L151.56,437.15L150.92,437.79L150.28,439.06L150.28,439.69L150.92,440.33L151.56,439.69L150.92,439.06M156.00,436.52L157.27,437.15L157.91,438.42L157.91,440.33L157.27,441.60L156.00,442.23L157.27,442.87L158.54,444.14L159.17,445.41L159.17,447.31L158.54,448.58L157.91,449.22L156.00,449.85M102.77,514.82L102.77,492.73L99.62,495.88L97.51,496.94M101.72,493.78L101.72,514.82M97.51,514.82L106.98,514.82M121.71,492.73L118.55,493.78L116.45,496.94L115.40,502.20L115.40,505.35L116.45,510.61L118.55,513.77L121.71,514.82L119.60,513.77L118.55,512.72L117.50,510.61L116.45,505.35L116.45,502.20L117.50,496.94L118.55,494.83L119.60,493.78L121.71,492.73L123.81,492.73L126.97,493.78L129.07,496.94L130.12,502.20L130.12,505.35L129.07,510.61L126.97,513.77L123.81,514.82L125.92,513.77L126.97,512.72L128.02,510.61L129.07,505.35L129.07,502.20L128.02,496.94L126.97,494.83L125.92,493.78L123.81,492.73M121.71,514.82L123.81,514.82M135.58,499.32h9.7M156.63,505.22L156.63,491.89L149.65,501.41L159.81,501.41M156.00,493.16L156.00,505.22M154.09,505.22L158.54,505.22M102.77,570.19L102.77,548.10L99.62,551.25L97.51,552.31M101.72,549.15L101.72,570.19M97.51,570.19L106.98,570.19M121.71,548.10L118.55,549.15L116.45,552.31L115.40,557.57L115.40,560.72L116.45,565.98L118.55,569.14L121.71,570.19L119.60,569.14L118.55,568.09L117.50,565.98L116.45,560.72L116.45,557.57L117.50,552.31L118.55,550.20L119.60,549.15L121.71,548.10L123.81,548.10L126.97,549.15L129.07,552.31L130.12,557.57L130.12,560.72L129.07,565.98L126.97,569.14L123.81,570.19L125.92,569.14L126.97,568.09L128.02,565.98L129.07,560.72L129.07,557.57L128.02,552.31L126.97,550.20L125.92,549.15L123.81,548.10M121.71,570.19L123.81,570.19M135.58,554.69h9.7M151.56,547.89L154.73,547.89L157.91,547.25L151.56,547.25L150.28,553.61L151.56,552.34L153.46,551.70L155.37,551.70L157.27,552.34L158.54,553.61L159.17,555.51L159.17,556.78L158.54,558.69L157.27,559.96L155.37,560.59L153.46,560.59L151.56,559.96L150.92,559.32L150.28,558.05L150.28,557.42L150.92,556.78L151.56,557.42L150.92,558.05M155.37,551.70L156.63,552.34L157.91,553.61L158.54,555.51L158.54,556.78L157.91,558.69L156.63,559.96L155.37,560.59M102.77,625.56L102.77,603.47L99.62,606.62L97.51,607.68M101.72,604.52L101.72,625.56M97.51,625.56L106.98,625.56M121.71,603.47L118.55,604.52L116.45,607.68L115.40,612.94L115.40,616.09L116.45,621.35L118.55,624.51L121.71,625.56L119.60,624.51L118.55,623.46L117.50,621.35L116.45,616.09L116.45,612.94L117.50,607.68L118.55,605.57L119.60,604.52L121.71,603.47L123.81,603.47L126.97,604.52L129.07,607.68L130.12,612.94L130.12,616.09L129.07,621.35L126.97,624.51L123.81,625.56L125.92,624.51L126.97,623.46L128.02,621.35L129.07,616.09L129.07,612.94L128.02,607.68L126.97,605.57L125.92,604.52L123.81,603.47M121.71,625.56L123.81,625.56M135.58,610.06h9.7M150.92,611.51L151.56,609.61L152.82,608.34L154.73,607.71L155.37,607.71L157.27,608.34L158.54,609.61L159.17,611.51L159.17,612.15L158.54,614.06L157.27,615.33L155.37,615.96L156.63,615.33L157.91,614.06L158.54,612.15L158.54,611.51L157.91,609.61L156.63,608.34L155.37,607.71M157.91,604.53L157.27,605.17L157.91,605.80L158.54,605.17L158.54,604.53L157.91,603.26L156.63,602.62L154.73,602.62L152.82,603.26L151.56,604.53L150.92,605.80L150.28,608.34L150.28,612.15L150.92,614.06L152.19,615.33L154.09,615.96L152.82,615.33L151.56,614.06L150.92,612.15L150.92,608.34L151.56,605.80L152.19,604.53L153.46,603.26L154.73,602.62M154.09,615.96L155.37,615.96M102.77,680.93L102.77,658.84L99.62,661.99L97.51,663.05M101.72,659.89L101.72,680.93M97.51,680.93L106.98,680.93M121.71,658.84L118.55,659.89L116.45,663.05L115.40,668.31L115.40,671.46L116.45,676.72L118.55,679.88L121.71,680.93L119.60,679.88L118.55,678.83L117.50,676.72L116.45,671.46L116.45,668.31L117.50,663.05L118.55,660.94L119.60,659.89L121.71,658.84L123.81,658.84L126.97,659.89L129.07,663.05L130.12,668.31L130.12,671.46L129.07,676.72L126.97,679.88L123.81,680.93L125.92,679.88L126.97,678.83L128.02,676.72L129.07,671.46L129.07,668.31L128.02,663.05L126.97,660.94L125.92,659.89L123.81,658.84M121.71,680.93L123.81,680.93M135.58,665.43h9.7M150.28,658.00L150.28,661.81M154.09,671.33L154.09,668.16L154.73,666.25L155.37,664.98L158.54,661.81L156.00,664.98L155.37,666.25L154.73,668.16L154.73,671.33M150.28,660.54L150.92,659.26L152.19,658.00L153.46,658.00L156.63,659.90L153.46,658.63L152.19,658.63L150.92,659.26M158.54,661.81L159.17,659.90L159.17,658.00L158.54,659.26L157.91,659.90L156.63,659.90M102.77,736.30L102.77,714.21L99.62,717.36L97.51,718.42M101.72,715.26L101.72,736.30M97.51,736.30L106.98,736.30M121.71,714.21L118.55,715.26L116.45,718.42L115.40,723.68L115.40,726.83L116.45,732.09L118.55,735.25L121.71,736.30L119.60,735.25L118.55,734.20L117.50,732.09L116.45,726.83L116.45,723.68L117.50,718.42L118.55,716.31L119.60,715.26L121.71,714.21L123.81,714.21L126.97,715.26L129.07,718.42L130.12,723.68L130.12,726.83L129.07,732.09L126.97,735.25L123.81,736.30L125.92,735.25L126.97,734.20L128.02,732.09L129.07,726.83L129.07,723.68L128.02,718.42L126.97,716.31L125.92,715.26L123.81,714.21M121.71,736.30L123.81,736.30M135.58,720.80h9.7M153.46,713.37L156.00,713.37L157.91,714.00L158.54,715.27L158.54,717.18L157.91,718.45L156.00,719.08L153.46,719.08L151.56,718.45L150.92,717.18L150.92,715.27L151.56,714.00L153.46,713.37L152.19,714.00L151.56,715.27L151.56,717.18L152.19,718.45L153.46,719.08L151.56,719.72L150.92,720.35L150.28,721.62L150.28,724.16L150.92,725.43L151.56,726.07L153.46,726.70L156.00,726.70L157.91,726.07L158.54,725.43L159.17,724.16L159.17,721.62L158.54,720.35L157.91,719.72L156.00,719.08L157.27,718.45L157.91,717.18L157.91,715.27L157.27,714.00L156.00,713.37M153.46,719.08L152.19,719.72L151.56,720.35L150.92,721.62L150.92,724.16L151.56,725.43L152.19,726.07L153.46,726.70M156.00,719.08L157.27,719.72L157.91,720.35L158.54,721.62L158.54,724.16L157.91,725.43L157.27,726.07L156.00,726.70M178.65,744.81L175.49,745.86L173.39,749.02L172.34,754.28L172.34,757.43L173.39,762.69L175.49,765.85L178.65,766.90L176.54,765.85L175.49,764.80L174.44,762.69L173.39,757.43L173.39,754.28L174.44,749.02L175.49,746.91L176.54,745.86L178.65,744.81L180.75,744.81L183.91,745.86L186.01,749.02L187.06,754.28L187.06,757.43L186.01,762.69L183.91,765.85L180.75,766.90L182.86,765.85L183.91,764.80L184.96,762.69L186.01,757.43L186.01,754.28L184.96,749.02L183.91,746.91L182.86,745.86L180.75,744.81M178.65,766.90L180.75,766.90M268.32,757.43L273.58,755.33L276.73,753.22L277.78,751.12L277.78,749.02L276.73,746.91L275.68,745.86L272.52,744.81L268.32,744.81L265.16,745.86L264.11,746.91L263.06,749.02L263.06,750.07L264.11,751.12L265.16,750.07L264.11,749.02M263.06,766.90L263.06,763.74L264.11,760.59L266.21,758.48L272.52,755.33L275.68,753.22L276.73,751.12L276.73,749.02L275.68,746.91L274.63,745.86L272.52,744.81M277.78,761.64L277.78,763.74L276.73,765.85L275.68,766.90L271.47,766.90L266.21,763.74L271.47,765.85L274.63,765.85L276.73,764.80L277.78,763.74M263.06,764.80L264.11,763.74L266.21,763.74M290.41,744.81L287.25,745.86L285.15,749.02L284.10,754.28L284.10,757.43L285.15,762.69L287.25,765.85L290.41,766.90L288.30,765.85L287.25,764.80L286.20,762.69L285.15,757.43L285.15,754.28L286.20,749.02L287.25,746.91L288.30,745.86L290.41,744.81L292.51,744.81L295.67,745.86L297.77,749.02L298.82,754.28L298.82,757.43L297.77,762.69L295.67,765.85L292.51,766.90L294.62,765.85L295.67,764.80L296.72,762.69L297.77,757.43L297.77,754.28L296.72,749.02L295.67,746.91L294.62,745.86L292.51,744.81M290.41,766.90L292.51,766.90M374.82,766.90L374.82,744.81L363.24,760.59L380.08,760.59M373.76,746.91L373.76,766.90M370.61,766.90L377.97,766.90M391.65,744.81L388.49,745.86L386.39,749.02L385.34,754.28L385.34,757.43L386.39,762.69L388.49,765.85L391.65,766.90L389.54,765.85L388.49,764.80L387.44,762.69L386.39,757.43L386.39,754.28L387.44,749.02L388.49,746.91L389.54,745.86L391.65,744.81L393.75,744.81L396.91,745.86L399.01,749.02L400.06,754.28L400.06,757.43L399.01,762.69L396.91,765.85L393.75,766.90L395.86,765.85L396.91,764.80L397.96,762.69L399.01,757.43L399.01,754.28L397.96,749.02L396.91,746.91L395.86,745.86L393.75,744.81M391.65,766.90L393.75,766.90M466.59,759.54L467.64,756.38L469.74,754.28L472.90,753.22L473.95,753.22L477.11,754.28L479.21,756.38L480.26,759.54L480.26,760.59L479.21,763.74L477.11,765.85L473.95,766.90L476.06,765.85L478.16,763.74L479.21,760.59L479.21,759.54L478.16,756.38L476.06,754.28L473.95,753.22M478.16,747.96L477.11,749.02L478.16,750.07L479.21,749.02L479.21,747.96L478.16,745.86L476.06,744.81L472.90,744.81L469.74,745.86L467.64,747.96L466.59,750.07L465.54,754.28L465.54,760.59L466.59,763.74L468.69,765.85L471.85,766.90L469.74,765.85L467.64,763.74L466.59,760.59L466.59,754.28L467.64,750.07L468.69,747.96L470.80,745.86L472.90,744.81M471.85,766.90L473.95,766.90M492.89,744.81L489.73,745.86L487.63,749.02L486.58,754.28L486.58,757.43L487.63,762.69L489.73,765.85L492.89,766.90L490.78,765.85L489.73,764.80L488.68,762.69L487.63,757.43L487.63,754.28L488.68,749.02L489.73,746.91L490.78,745.86L492.89,744.81L494.99,744.81L498.15,745.86L500.25,749.02L501.30,754.28L501.30,757.43L500.25,762.69L498.15,765.85L494.99,766.90L497.10,765.85L498.15,764.80L499.20,762.69L500.25,757.43L500.25,754.28L499.20,749.02L498.15,746.91L497.10,745.86L494.99,744.81M492.89,766.90L494.99,766.90M572.04,744.81L576.24,744.81L579.40,745.86L580.45,747.96L580.45,751.12L579.40,753.22L576.24,754.28L572.04,754.28L568.88,753.22L567.83,751.12L567.83,747.96L568.88,745.86L572.04,744.81L569.93,745.86L568.88,747.96L568.88,751.12L569.93,753.22L572.04,754.28L568.88,755.33L567.83,756.38L566.78,758.48L566.78,762.69L567.83,764.80L568.88,765.85L572.04,766.90L576.24,766.90L579.40,765.85L580.45,764.80L581.50,762.69L581.50,758.48L580.45,756.38L579.40,755.33L576.24,754.28L578.35,753.22L579.40,751.12L579.40,747.96L578.35,745.86L576.24,744.81M572.04,754.28L569.93,755.33L568.88,756.38L567.83,758.48L567.83,762.69L568.88,764.80L569.93,765.85L572.04,766.90M576.24,754.28L578.35,755.33L579.40,756.38L580.45,758.48L580.45,762.69L579.40,764.80L578.35,765.85L576.24,766.90M594.13,744.81L590.97,745.86L588.87,749.02L587.82,754.28L587.82,757.43L588.87,762.69L590.97,765.85L594.13,766.90L592.02,765.85L590.97,764.80L589.92,762.69L588.87,757.43L588.87,754.28L589.92,749.02L590.97,746.91L592.02,745.86L594.13,744.81L596.23,744.81L599.39,745.86L601.49,749.02L602.54,754.28L602.54,757.43L601.49,762.69L599.39,765.85L596.23,766.90L598.34,765.85L599.39,764.80L600.44,762.69L601.49,757.43L601.49,754.28L600.44,749.02L599.39,746.91L598.34,745.86L596.23,744.81M594.13,766.90L596.23,766.90M671.17,766.90L671.17,744.81L668.02,747.96L665.91,749.02M670.12,745.86L670.12,766.90M665.91,766.90L675.38,766.90M690.11,744.81L686.95,745.86L684.85,749.02L683.80,754.28L683.80,757.43L684.85,762.69L686.95,765.85L690.11,766.90L688.00,765.85L686.95,764.80L685.90,762.69L684.85,757.43L684.85,754.28L685.90,749.02L686.95,746.91L688.00,745.86L690.11,744.81L692.21,744.81L695.37,745.86L697.47,749.02L698.52,754.28L698.52,757.43L697.47,762.69L695.37,765.85L692.21,766.90L694.32,765.85L695.37,764.80L696.42,762.69L697.47,757.43L697.47,754.28L696.42,749.02L695.37,746.91L694.32,745.86L692.21,744.81M690.11,766.90L692.21,766.90M705.76,751.58L708.94,750.31L710.84,749.04L711.48,747.77L711.48,746.50L710.84,745.23L710.21,744.60L708.30,743.96L705.76,743.96L703.86,744.60L703.22,745.23L702.59,746.50L702.59,747.14L703.22,747.77L703.86,747.14L703.22,746.50M702.59,757.30L702.59,755.39L703.22,753.49L704.49,752.22L708.30,750.31L710.21,749.04L710.84,747.77L710.84,746.50L710.21,745.23L709.57,744.60L708.30,743.96M711.48,754.12L711.48,755.39L710.84,756.66L710.21,757.30L707.67,757.30L704.49,755.39L707.67,756.66L709.57,756.66L710.84,756.03L711.48,755.39M702.59,756.03L703.22,755.39L704.49,755.39M427.19,808.40L427.19,830.42L428.48,834.31L431.07,835.60L433.66,835.60L436.25,834.31L437.55,831.72M428.48,808.40L428.48,830.42L429.78,834.31L431.07,835.60M423.30,817.47L433.66,817.47M486.71,803.23L463.40,844.67M517.38,835.60L517.38,808.40L526.45,835.60L535.51,808.40L535.51,835.60M536.81,808.40L536.81,835.60M526.45,831.72L518.68,808.40L513.50,808.40M531.63,835.60L540.70,835.60M513.50,835.60L521.27,835.60M540.70,808.40L535.51,808.40M73.60,498.53L50.38,498.53L47.80,497.24L46.51,494.66L46.51,492.08L47.80,490.79L49.09,490.79L50.38,492.08L49.09,493.37L47.80,492.08M73.60,497.24L50.38,497.24L47.80,495.95L46.51,494.66M55.54,502.40L55.54,492.08M73.60,502.40L73.60,493.37M46.51,481.76L73.60,481.76M73.60,480.47L46.51,480.47L46.51,485.63M73.60,485.63L73.60,476.60M55.54,453.38L73.60,453.38L73.60,448.22M73.60,452.09L55.54,452.09L55.54,457.25M55.54,467.57L69.73,467.57L72.31,466.28L73.60,462.41L72.31,464.99L69.73,466.28L55.54,466.28L55.54,471.44M69.73,453.38L72.31,455.96L73.60,459.83L73.60,462.41M63.28,426.29L59.41,426.29L56.83,427.58L55.54,430.16L55.54,434.03L56.83,437.90L59.41,440.48L63.28,441.77L65.86,441.77L69.73,440.48L72.31,437.90L73.60,434.03L72.31,436.61L69.73,439.19L65.86,440.48L63.28,440.48L63.28,425.00L60.70,425.00L58.12,426.29L56.83,427.58M69.73,425.00L72.31,427.58L73.60,431.45L73.60,434.03M63.28,440.48L59.41,439.19L56.83,436.61L55.54,434.03M55.54,414.68L73.60,414.68M73.60,413.39L55.54,413.39L55.54,418.55M73.60,400.49L59.41,400.49L56.83,401.78L55.54,404.36L56.83,400.49L59.41,399.20L73.60,399.20M73.60,418.55L73.60,409.52M73.60,404.36L73.60,395.33M59.41,413.39L56.83,410.81L55.54,406.94L55.54,404.36M69.73,372.11L72.31,374.69L73.60,378.56L73.60,381.14L72.31,385.01L69.73,387.59L65.86,388.88L63.28,388.88L59.41,387.59L56.83,385.01L55.54,381.14L55.54,377.27L56.83,374.69L59.41,372.11L60.70,372.11L61.99,373.40L60.70,374.69L59.41,373.40M55.54,381.14L56.83,383.72L59.41,386.30L63.28,387.59L65.86,387.59L69.73,386.30L72.31,383.72L73.60,381.14M63.28,348.89L59.41,348.89L56.83,350.18L55.54,352.76L55.54,356.63L56.83,360.50L59.41,363.08L63.28,364.37L65.86,364.37L69.73,363.08L72.31,360.50L73.60,356.63L72.31,359.21L69.73,361.79L65.86,363.08L63.28,363.08L63.28,347.60L60.70,347.60L58.12,348.89L56.83,350.18M69.73,347.60L72.31,350.18L73.60,354.05L73.60,356.63M63.28,363.08L59.41,361.79L56.83,359.21L55.54,356.63M589.50,215.65L588.45,216.69L582.18,217.74L579.04,218.78L578.00,220.88L578.00,222.97L579.04,225.06L582.18,226.10L585.32,226.10L587.40,225.06L589.50,222.97L589.50,213.56L590.54,215.65L590.54,222.97L591.59,225.06L592.63,226.10L590.54,225.06L589.50,222.97M580.09,213.56L580.09,214.60L579.04,214.60L579.04,213.56L580.09,212.51L582.18,211.47L586.36,211.47L588.45,212.51L589.50,213.56M593.67,226.10L592.63,226.10M582.18,217.74L580.09,218.78L579.04,220.88L579.04,222.97L580.09,225.06L582.18,226.10M616.66,199.97L597.86,233.41M623.98,226.10L623.98,204.16L631.29,226.10L638.61,204.16L638.61,226.10M639.65,204.16L639.65,226.10M631.29,222.97L625.02,204.16L620.85,204.16M635.48,226.10L642.79,226.10M620.85,226.10L627.12,226.10M642.79,204.16L638.61,204.16M649.06,213.56L667.87,213.56M649.06,219.83L667.87,219.83M681.46,204.16L678.32,205.20L676.23,208.33L675.19,213.56L675.19,216.69L676.23,221.92L678.32,225.06L681.46,226.10L679.37,225.06L678.32,224.01L677.27,221.92L676.23,216.69L676.23,213.56L677.27,208.33L678.32,206.25L679.37,205.20L681.46,204.16L683.55,204.16L686.68,205.20L688.77,208.33L689.82,213.56L689.82,216.69L688.77,221.92L686.68,225.06L683.55,226.10L685.63,225.06L686.68,224.01L687.73,221.92L688.77,216.69L688.77,213.56L687.73,208.33L686.68,206.25L685.63,205.20L683.55,204.16M681.46,226.10L683.55,226.10M698.17,224.01L697.13,225.06L698.17,226.10L699.22,225.06L698.17,224.01M706.53,204.16L706.53,210.42M712.81,226.10L712.81,220.88L713.85,217.74L714.89,215.65L720.12,210.42L715.94,215.65L714.89,217.74L713.85,220.88L713.85,226.10M706.53,208.33L707.58,206.25L709.67,204.16L711.76,204.16L716.99,207.29L711.76,205.20L709.67,205.20L707.58,206.25M720.12,210.42L721.16,207.29L721.16,204.16L720.12,206.25L719.08,207.29L716.99,207.29" fill="none" stroke="#000" stroke-width="1.55" stroke-linecap="round" stroke-linejoin="round"/>
</svg>
</body></html>
